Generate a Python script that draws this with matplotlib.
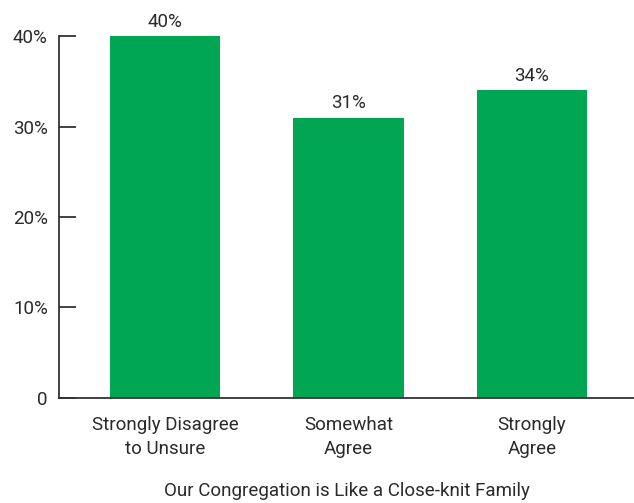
import matplotlib.pyplot as plt
from matplotlib import font_manager

# data
categories = ["Strongly Disagree\nto Unsure", "Somewhat\nAgree", "Strongly\nAgree"]
values = [40, 31, 34]
bar_labels = ["40%", "31%", "34%"]
yticks = [0, 10, 20, 30, 40]
ytick_labels = ["0", "10%", "20%", "30%", "40%"]
xlabel = "Our Congregation is Like a Close-knit Family"

names = {f.name for f in font_manager.fontManager.ttflist}
family = ["Liberation Sans Narrow"] if "Liberation Sans Narrow" in names else ["Roboto"]
plt.rcParams["font.family"] = family + ["DejaVu Sans"]

GREEN = "#00A651"
TEXT = "#2a2a2a"
FS = 13.5

fig = plt.figure(figsize=(6.34, 5.03), dpi=100)
ax = fig.add_axes([0.093, 0.209, 0.907, 0.719])

x = range(len(categories))
ax.bar(x, values, width=0.6, color=GREEN)

for xi, v, lab in zip(x, values, bar_labels):
    ax.text(xi, v + 0.6, lab, ha="center", va="bottom", fontsize=FS, color=TEXT, clip_on=False)

ax.set_ylim(0, 40)
ax.set_xlim(-0.578, 2.556)
ax.set_yticks(yticks)
ax.set_yticklabels(ytick_labels)
ax.set_xticks(list(x))
ax.set_xticklabels(categories, linespacing=1.45)

ax.tick_params(axis="y", direction="in", length=12, width=1.3, color="#333333",
               labelsize=FS, labelcolor=TEXT, pad=8)
ax.tick_params(axis="x", length=0, labelsize=FS, labelcolor=TEXT, pad=13)

for side in ("top", "right"):
    ax.spines[side].set_visible(False)
for side in ("left", "bottom"):
    ax.spines[side].set_color("#333333")
    ax.spines[side].set_linewidth(1.3)

ax.set_xlabel(xlabel, fontsize=FS, color=TEXT, labelpad=17)

fig.savefig("out.png", dpi=100)
